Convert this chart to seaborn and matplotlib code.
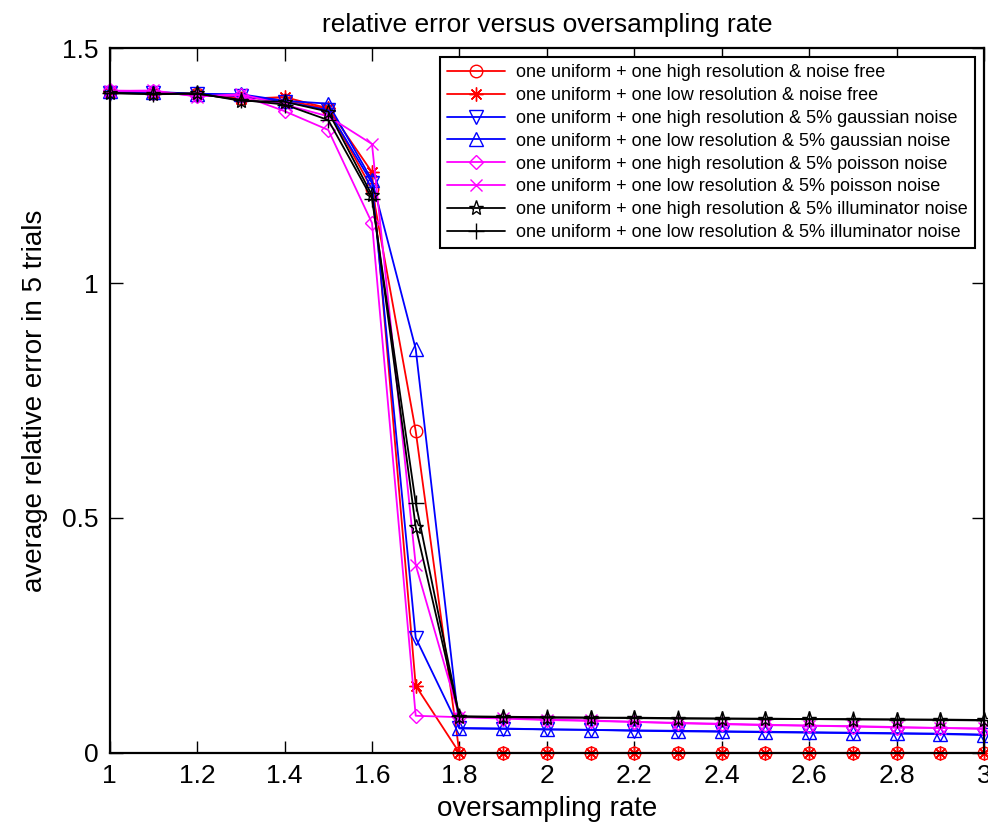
import matplotlib
matplotlib.use("Agg")
import matplotlib.pyplot as plt
from matplotlib import font_manager
import numpy as np
import pandas as pd
import seaborn as sns

# oversampling rates
rate = [1.0, 1.1, 1.2, 1.3, 1.4, 1.5, 1.6, 1.7, 1.8, 1.9, 2.0, 2.1, 2.2,
        2.3, 2.4, 2.5, 2.6, 2.7, 2.8, 2.9, 3.0]

labels = [
    "one uniform + one high resolution & noise free",
    "one uniform + one low resolution & noise free",
    "one uniform + one high resolution & 5% gaussian noise",
    "one uniform + one low resolution & 5% gaussian noise",
    "one uniform + one high resolution & 5% poisson noise",
    "one uniform + one low resolution & 5% poisson noise",
    "one uniform + one high resolution & 5% illuminator noise",
    "one uniform + one low resolution & 5% illuminator noise",
]

# average relative error over 5 trials
high_free = [1.407, 1.405, 1.403, 1.395, 1.390, 1.370, 1.200, 0.685, 0, 0, 0, 0, 0,
             0, 0, 0, 0, 0, 0, 0, 0]
low_free = [1.406, 1.404, 1.402, 1.392, 1.396, 1.372, 1.236, 0.143, 0, 0, 0, 0, 0,
            0, 0, 0, 0, 0, 0, 0, 0]
high_gauss = [1.405, 1.405, 1.402, 1.398, 1.386, 1.368, 1.213, 0.245, 0.052, 0.051,
              0.050, 0.049, 0.047, 0.046, 0.045, 0.044, 0.043, 0.042, 0.041, 0.040,
              0.038]
low_gauss = [1.408, 1.407, 1.403, 1.402, 1.388, 1.382, 1.219, 0.860, 0.053, 0.052,
             0.050, 0.049, 0.048, 0.047, 0.046, 0.045, 0.044, 0.043, 0.042, 0.041,
             0.039]
high_poisson = [1.410, 1.408, 1.398, 1.400, 1.366, 1.326, 1.128, 0.079, 0.076, 0.073,
                0.070, 0.068, 0.066, 0.063, 0.061, 0.059, 0.058, 0.056, 0.054, 0.053,
                0.051]
low_poisson = [1.409, 1.410, 1.397, 1.402, 1.380, 1.355, 1.296, 0.400, 0.077, 0.074,
               0.071, 0.069, 0.066, 0.064, 0.062, 0.060, 0.058, 0.057, 0.055, 0.053,
               0.052]
high_illum = [1.405, 1.403, 1.404, 1.388, 1.386, 1.365, 1.187, 0.481, 0.077, 0.076,
              0.075, 0.075, 0.074, 0.073, 0.073, 0.072, 0.072, 0.071, 0.071, 0.070,
              0.069]
low_illum = [1.404, 1.402, 1.403, 1.390, 1.380, 1.347, 1.180, 0.532, 0.078, 0.077,
             0.076, 0.075, 0.075, 0.074, 0.073, 0.073, 0.072, 0.072, 0.071, 0.071,
             0.070]

series = [high_free, low_free, high_gauss, low_gauss,
          high_poisson, low_poisson, high_illum, low_illum]
colors = ["#ff0000", "#ff0000", "#0000ff", "#0000ff",
          "#ff00ff", "#ff00ff", "#000000", "#000000"]
markers = ["o", (8, 2, 0), "v", "^", "D", "x", "*", "+"]
msizes = [9, 10, 10, 10, 7, 8, 11, 11]

xticks = [1, 1.2, 1.4, 1.6, 1.8, 2, 2.2, 2.4, 2.6, 2.8, 3]
yticks = [0, 0.5, 1, 1.5]

sns.set_style("white")
installed = {f.name for f in font_manager.fontManager.ttflist}
families = [f for f in ["Liberation Sans Narrow", "Liberation Sans", "DejaVu Sans"]
            if f in installed]
plt.rcParams["font.family"] = families
plt.rcParams["text.color"] = "black"
plt.rcParams["axes.labelcolor"] = "black"

df = pd.DataFrame({
    "rate": np.tile(rate, len(series)),
    "error": np.concatenate(series),
    "method": np.repeat(labels, len(rate)),
})

fig = plt.figure(figsize=(9.88, 8.31), dpi=100)
ax = fig.add_axes([0.111, 0.094, 0.885, 0.848])

for lab, col, mk, ms in zip(labels, colors, markers, msizes):
    sub = df[df["method"] == lab]
    sns.lineplot(data=sub, x="rate", y="error", ax=ax, color=col, label=lab,
                 marker=mk, markersize=ms, markerfacecolor="none",
                 markeredgecolor=col, markeredgewidth=1.0, linewidth=1.3,
                 estimator=None, sort=False, clip_on=False)

ax.set_xlim(1, 3)
ax.set_ylim(0, 1.5)
ax.set_xticks(xticks)
ax.set_xticklabels([f"{t:g}" for t in xticks])
ax.set_yticks(yticks)
ax.set_yticklabels([f"{t:g}" for t in yticks])
ax.tick_params(direction="in", length=9, width=1, top=True, right=True,
               bottom=True, left=True, labelsize=19, colors="black",
               labelcolor="black", pad=8)
for sp in ax.spines.values():
    sp.set_visible(True)
    sp.set_color("black")
    sp.set_linewidth(1.6)

ax.set_title("relative error versus oversampling rate", fontsize=19, pad=12,
             color="black")
ax.set_xlabel("oversampling rate", fontsize=20, labelpad=6)
ax.set_ylabel("average relative error in 5 trials", fontsize=20, labelpad=10)

leg = ax.legend(loc="upper right", fontsize=13, frameon=True, fancybox=False,
                edgecolor="black", framealpha=1, handlelength=3.2,
                borderaxespad=0.5, labelspacing=0.32, numpoints=1,
                borderpad=0.4, handletextpad=0.6)
leg.get_frame().set_linewidth(1.5)
for t in leg.get_texts():
    t.set_color("black")

fig.savefig("out.png", dpi=100)
